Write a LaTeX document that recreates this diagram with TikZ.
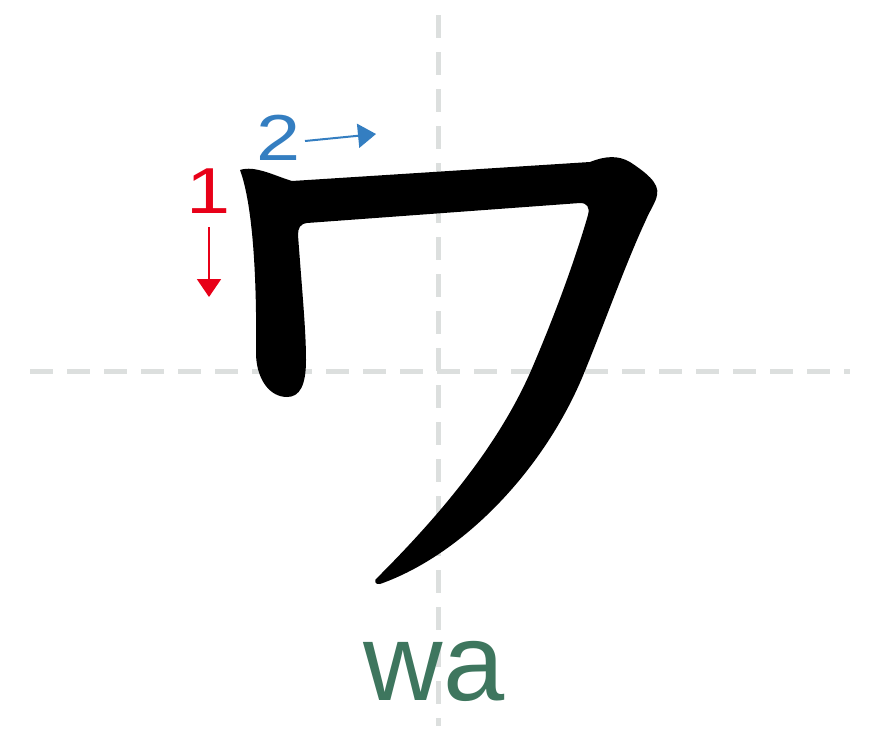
\documentclass[tikz,border=0pt]{standalone}
\usepackage{fontspec}
\setmainfont{Liberation Sans}
\usetikzlibrary{arrows.meta}
\definecolor{guide}{RGB}{220,223,222}
\definecolor{redone}{RGB}{232,0,24}
\definecolor{bluetwo}{RGB}{52,126,193}
\definecolor{greenwa}{RGB}{62,118,94}
\begin{document}
\begin{tikzpicture}[x=1pt,y=-1pt,
  guideline/.style={draw=guide,line width=5pt,dash pattern=on 23pt off 14pt},
  ordarrow/.style={line width=2pt,-{Triangle[length=18pt,width=24pt]}},
  numlabel/.style={font=\fontsize{65}{65}\selectfont,anchor=base,inner sep=0pt,xscale=1.22}]
\useasboundingbox[fill=white] (0,0) rectangle (880,739);
% guides
\coordinate (vt) at (438,15);
\coordinate (vb) at (438,726);
\coordinate (hl) at (30,371);
\coordinate (hr) at (850,371);
\draw[guideline] (vt) -- (vb);
\draw[guideline] (hl) -- (hr);
% character
\fill[black] (240,170)
  .. controls (255,165) and (275,176) .. (292,181)
  -- (590,162)
  .. controls (605,156) and (618,155) .. (630,162)
  .. controls (645,172) and (660,183) .. (657,195)
  .. controls (656,202) and (650,210) .. (645,222)
  .. controls (625,265) and (602,330) .. (582,378)
  .. controls (542,472) and (462,555) .. (380,584)
  .. controls (375,585) and (373,580) .. (378,577)
  .. controls (450,505) and (500,440) .. (530,373)
  .. controls (555,315) and (575,260) .. (588,215)
  .. controls (590,207) and (587,203) .. (580,203)
  -- (307,223)
  .. controls (300,224) and (298,228) .. (298,235)
  .. controls (302,290) and (306,330) .. (306,360)
  .. controls (306,385) and (300,397) .. (287,397)
  .. controls (270,397) and (257,380) .. (256,355)
  .. controls (257,280) and (253,205) .. (240,170)
  -- cycle;
% stroke order
\node[numlabel,text=redone] (n1) at (209,213) {1};
\coordinate (a1s) at (209,227);
\coordinate (a1e) at (209,297);
\draw[ordarrow,draw=redone,fill=redone] (a1s) -- (a1e);
\node[numlabel,text=bluetwo] (n2) at (279,160) {2};
\coordinate (a2s) at (305,141);
\coordinate (a2e) at (376,134);
\draw[ordarrow,draw=bluetwo,fill=bluetwo] (a2s) -- (a2e);
% romaji
\node[font=\fontsize{110}{110}\selectfont,text=greenwa,anchor=base,inner sep=0pt] (wa) at (434,700) {wa};
\end{tikzpicture}
\end{document}
